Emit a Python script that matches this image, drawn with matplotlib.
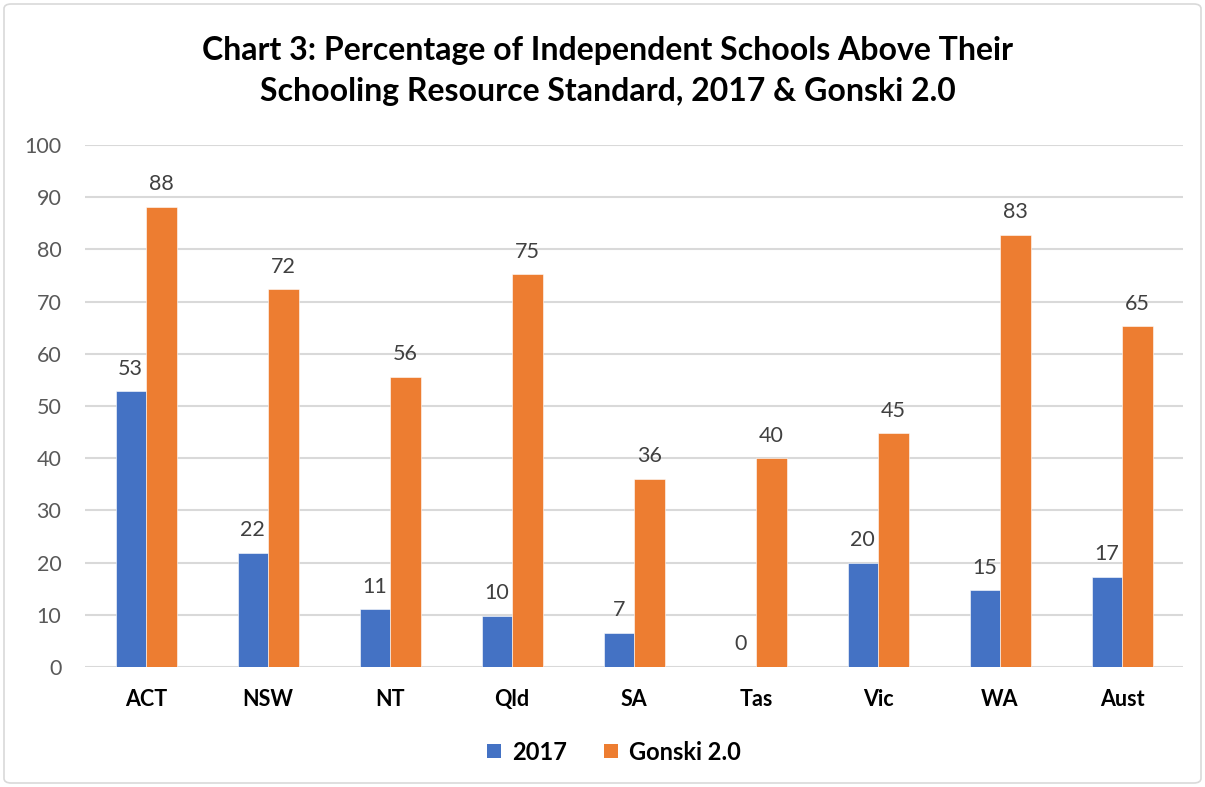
import matplotlib
matplotlib.use("Agg")
import matplotlib.pyplot as plt
import numpy as np
from matplotlib.patches import FancyBboxPatch
from matplotlib.lines import Line2D

categories = ["ACT", "NSW", "NT", "Qld", "SA", "Tas", "Vic", "WA", "Aust"]
series_names = ["2017", "Gonski 2.0"]
values_2017 = [52.8, 21.9, 11.1, 9.8, 6.6, 0.0, 20.0, 14.7, 17.3]
values_gonski = [88.2, 72.4, 55.6, 75.2, 36.1, 40.0, 44.8, 82.8, 65.3]
yticks = [0, 10, 20, 30, 40, 50, 60, 70, 80, 90, 100]
title = "Chart 3: Percentage of Independent Schools Above Their\nSchooling Resource Standard, 2017 & Gonski 2.0"

plt.rcParams['font.family'] = ['Lato', 'DejaVu Sans']

W, H = 1205, 787
fig = plt.figure(figsize=(W / 100, H / 100), dpi=100)
fig.patch.set_facecolor("white")

# border
fig.patches.append(FancyBboxPatch((4 / W, 4 / H), (W - 8) / W, (H - 8) / H,
                                  boxstyle="round,pad=0,rounding_size=0.006",
                                  transform=fig.transFigure, fill=False,
                                  edgecolor="#D9D9D9", linewidth=1.2))

left, right, top, bottom = 85, 1183, 145, 667
ax = fig.add_axes([left / W, 1 - bottom / H, (right - left) / W, (bottom - top) / H])

x = np.arange(len(categories))
bw = 0.25
c1, c2 = "#4472C4", "#ED7D31"
b1 = ax.bar(x - bw / 2, values_2017, bw, color=c1, label=series_names[0], zorder=3,
            edgecolor="white", linewidth=0.4)
b2 = ax.bar(x + bw / 2, values_gonski, bw, color=c2, label=series_names[1], zorder=3,
            edgecolor="white", linewidth=0.4)

for bars, vals in ((b1, values_2017), (b2, values_gonski)):
    for rect, v in zip(bars, vals):
        ax.annotate(f"{v:.0f}", (rect.get_x() + rect.get_width() / 2, v),
                    xytext=(0, 9), textcoords="offset points",
                    ha="center", va="bottom", fontsize=15.5, color="#404040")

ax.set_xlim(-0.5, len(categories) - 0.5)
ax.set_ylim(0, 100)
ax.set_yticks(yticks)
ax.set_yticklabels([str(t) for t in yticks], fontsize=15.5, color="#595959")
ax.set_xticks(x)
ax.set_xticklabels(categories, fontsize=15.5, fontweight="bold", color="black")
ax.tick_params(axis="both", length=0)
ax.tick_params(axis="y", pad=17)
ax.tick_params(axis="x", pad=16)
ax.yaxis.grid(True, color="#D9D9D9", linewidth=1.5, zorder=0)
ax.set_axisbelow(True)
for s in ax.spines.values():
    s.set_visible(False)

fig.text(608 / W, 1 - 71 / H, title, ha="center", va="center", fontsize=23,
         fontweight="bold", color="black", linespacing=1.5)

handles = [Line2D([], [], marker="s", linestyle="", markersize=10.5, color=c,
                  markeredgewidth=0) for c in (c1, c2)]
leg = fig.legend(handles, series_names, loc="center",
                 bbox_to_anchor=(614 / W, 1 - 752 / H), ncol=2,
                 frameon=False, prop={"size": 17, "weight": "bold"},
                 handlelength=0.6, handletextpad=0.45, columnspacing=1.6)

fig.savefig("out.png", dpi=100)
